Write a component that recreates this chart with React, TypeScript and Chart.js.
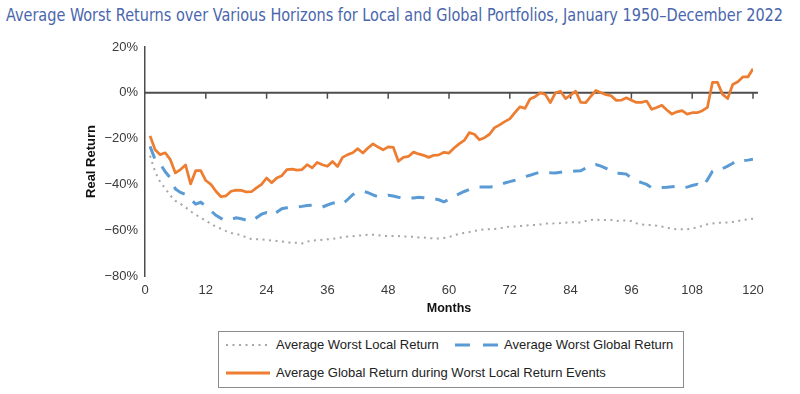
import React, { useEffect, useLayoutEffect, useRef } from 'react';
import { Chart, registerables } from 'chart.js';

Chart.register(...registerables);

// Horizon in months (1..120)
const months: number[] = Array.from({ length: 120 }, (_, i) => i + 1);

// x-axis tick positions (months) and y-axis tick values (%)
const xTicks: number[] = [0, 12, 24, 36, 48, 60, 72, 84, 96, 108, 120];
const yTicks: number[] = [20, 0, -20, -40, -60, -80];

// Average worst local return (%)
const worstLocal: number[] = [
  -27.5, -34.5, -39, -41.8, -44.8, -47.2, -48.5, -50, -51.8, -53.2,
  -54.6, -55.8, -57.2, -58.5, -59.4, -60.4, -61.2, -61.7, -62.1, -63.2,
  -63.8, -63.9, -64, -64.2, -64.5, -64.7, -64.9, -65.3, -65.4, -65.5,
  -65.8, -65, -64.5, -64.4, -64.2, -64, -63.8, -63.5, -63, -62.8,
  -62.6, -62.4, -62.2, -62, -62, -62.2, -62.5, -62.5, -62.5, -62.5,
  -62.8, -62.8, -62.9, -63.2, -63.2, -63.4, -63.6, -63.6, -63.4, -63,
  -62.2, -61.6, -61.2, -60.8, -60.3, -60, -59.6, -59.6, -59.5, -59.2,
  -58.7, -58.4, -58.4, -58.2, -58, -57.8, -57.7, -57.5, -57.1, -57.1,
  -57, -56.9, -56.7, -56.5, -56.5, -56.7, -56, -55.5, -55.3, -55.6,
  -55.6, -55.6, -56, -55.8, -55.8, -56, -57, -57.5, -57.7, -57.7,
  -58, -58.4, -58.9, -59.4, -59.6, -59.6, -59.6, -59.2, -58.8, -58.1,
  -57.4, -57.1, -56.7, -56.8, -56.6, -56.4, -56, -55.6, -55.2, -55,
];

// Average worst global return (%)
const worstGlobal: number[] = [
  -23.4, -29.2, -31, -34.5, -37.2, -42, -43.5, -44.4, -46.5, -48.6,
  -47.8, -49.5, -51.5, -53.5, -54.8, -55.8, -55.2, -54.6, -55, -55.6,
  -56.2, -54.6, -53, -52.3, -53.6, -52.2, -50.6, -50.2, -50, -49.9,
  -49.6, -49.2, -49.1, -49.5, -49.9, -49, -48.2, -47.8, -48.6, -46.6,
  -44.5, -43.2, -43, -43.6, -44.6, -45.4, -45.2, -44.7, -45.1, -45.6,
  -46, -46.1, -45.9, -45.6, -45.8, -46.1, -46.3, -46.7, -47.6, -46.6,
  -45.2, -44.1, -43.1, -42.2, -41.5, -41.1, -41.1, -41.1, -41, -40.2,
  -39.4, -38.8, -38.2, -37.4, -36.6, -36, -35.3, -34.6, -34.7, -34.9,
  -35, -34.7, -34.4, -34.4, -34.2, -34.1, -32.8, -31.4, -31.3, -32,
  -33, -34.3, -35.1, -35.2, -35.5, -37.2, -38.4, -39.2, -40, -41.5,
  -41.5, -41.3, -41.2, -41, -40.8, -41.5, -41.2, -40.5, -40, -41.1,
  -38, -34.3, -32.8, -33.1, -32, -30.8, -29.2, -29.6, -29.4, -29,
];

// Average global return during worst local return events (%)
const globalDuringLocal: number[] = [
  -18.8, -24.9, -27, -26.2, -29.2, -35, -33.5, -31.5, -39.8, -34,
  -34, -38.3, -40, -43, -45.4, -45, -43, -42.5, -42.6, -43.3,
  -43.2, -41.5, -40, -37.2, -39.3, -37.2, -36.2, -33.5, -33.3, -33.8,
  -33.5, -31.4, -32.8, -30.4, -31.4, -32.1, -30, -32.2, -28.2, -27,
  -26.2, -24.4, -26.3, -24.1, -22.3, -23.7, -24.9, -23.6, -23.8, -29.9,
  -28.2, -27.8, -25.9, -26.7, -27.3, -28.2, -27.3, -27.1, -26, -26.3,
  -24.1, -22.3, -20.8, -17.4, -18.1, -20.5, -19.6, -18.1, -15.2, -14,
  -12.6, -11.4, -8.7, -6.1, -6.8, -2.7, -1.7, 0, -0.7, -4.3,
  0, 0.7, -2.5, -1, 0.7, -4.2, -4.3, -1.5, 1, 0,
  -0.8, -1.3, -3.3, -3.2, -2.2, -3.2, -4.2, -4.2, -3.6, -7.2,
  -6.4, -5.4, -7.5, -9.3, -8.3, -7.8, -9.3, -8.7, -8.7, -7.8,
  -6.4, 4.5, 4.5, -0.7, -2.5, 3.6, 4.8, 6.9, 6.9, 10.5,
];

const TITLE = 'Average Worst Returns over Various Horizons for Local and Global Portfolios, January 1950\u2013December 2022';
const TITLE_WIDTH = 777;

const LOCAL_COLOR = '#a6a6a6';
const GLOBAL_COLOR = '#5b9bd5';
const DURING_COLOR = '#ed7d31';
const AXIS_COLOR = '#4d4d4d';
const SANS = '"Liberation Sans", Arial, sans-serif';

const toPoints = (vals: number[]) => vals.map((v, i) => ({ x: months[i], y: v }));

const formatPct = (v: number) => (v < 0 ? '\u2212' + Math.abs(v) + '%' : v + '%');

// Draws the horizontal 0% axis with downward tick marks every 12 months
const zeroAxisPlugin = {
  id: 'zeroAxis',
  beforeDatasetsDraw(chart: any) {
    const { ctx, scales } = chart;
    const x = scales.x;
    const y = scales.y;
    const y0 = y.getPixelForValue(0);
    ctx.save();
    ctx.strokeStyle = AXIS_COLOR;
    ctx.lineWidth = 2;
    ctx.beginPath();
    ctx.moveTo(x.left, y0);
    ctx.lineTo(x.right + 5, y0);
    ctx.stroke();
    ctx.lineWidth = 1.5;
    ctx.beginPath();
    xTicks.forEach((t) => {
      if (t === 0) return;
      const px = x.getPixelForValue(t);
      ctx.moveTo(px, y0);
      ctx.lineTo(px, y0 + 6);
    });
    ctx.stroke();
    ctx.restore();
  },
};

function LegendSample({ kind }: { kind: 'dot' | 'dash' | 'solid' }) {
  const stroke = kind === 'dot' ? LOCAL_COLOR : kind === 'dash' ? GLOBAL_COLOR : DURING_COLOR;
  const dash = kind === 'dot' ? '2 4.5' : kind === 'dash' ? '15 13' : undefined;
  const width = kind === 'dot' ? 2 : 3;
  return (
    <svg width={44} height={8} style={{ display: 'block' }}>
      <line x1={0} y1={4} x2={44} y2={4} stroke={stroke} strokeWidth={width} strokeDasharray={dash} />
    </svg>
  );
}

export default function App() {
  const canvasRef = useRef<HTMLCanvasElement | null>(null);
  const titleRef = useRef<HTMLSpanElement | null>(null);

  // Fit the condensed title to its line width
  useLayoutEffect(() => {
    const el = titleRef.current;
    if (!el) return;
    el.style.transform = 'none';
    const w = el.getBoundingClientRect().width;
    if (w > 0) el.style.transform = `scaleX(${TITLE_WIDTH / w})`;
  }, []);

  useEffect(() => {
    if (!canvasRef.current) return;
    const chart = new Chart(canvasRef.current, {
      type: 'line',
      data: {
        datasets: [
          {
            label: 'Average Worst Local Return',
            data: toPoints(worstLocal),
            borderColor: LOCAL_COLOR,
            borderWidth: 2,
            borderDash: [2, 4.5],
            pointRadius: 0,
            tension: 0,
            order: 3,
          },
          {
            label: 'Average Worst Global Return',
            data: toPoints(worstGlobal),
            borderColor: GLOBAL_COLOR,
            borderWidth: 3,
            borderDash: [13, 11],
            pointRadius: 0,
            tension: 0,
            order: 2,
          },
          {
            label: 'Average Global Return during Worst Local Return Events',
            data: toPoints(globalDuringLocal),
            borderColor: DURING_COLOR,
            borderWidth: 2.75,
            borderJoinStyle: 'round',
            pointRadius: 0,
            tension: 0,
            order: 1,
          },
        ],
      },
      options: {
        animation: false,
        responsive: false,
        devicePixelRatio: 1,
        layout: { padding: { left: 70, right: 47, top: 47, bottom: 9 } },
        plugins: {
          legend: { display: false },
          tooltip: { enabled: false },
        },
        scales: {
          x: {
            type: 'linear',
            min: 0,
            max: 120,
            afterBuildTicks: (scale: any) => {
              scale.ticks = xTicks.map((v) => ({ value: v }));
            },
            afterFit: (scale: any) => {
              scale.height = 45;
            },
            grid: { display: false, drawTicks: false },
            border: { display: false },
            ticks: {
              padding: 7,
              maxRotation: 0,
              autoSkip: false,
              color: '#3a3a3a',
              font: { family: SANS, size: 13 },
            },
            title: {
              display: true,
              text: 'Months',
              color: '#111',
              font: { family: SANS, size: 12.5, weight: 'bold' },
              padding: { top: 0, bottom: 4.5 },
            },
          },
          y: {
            min: -80,
            max: 20,
            afterBuildTicks: (scale: any) => {
              scale.ticks = yTicks.map((v) => ({ value: v }));
            },
            afterFit: (scale: any) => {
              scale.width = 75;
            },
            grid: { display: false, drawTicks: false },
            border: { display: true, color: AXIS_COLOR, width: 1.5 },
            ticks: {
              padding: 7,
              color: '#3a3a3a',
              font: { family: SANS, size: 13 },
              callback: (v: any) => formatPct(Number(v)),
            },
            title: {
              display: true,
              text: 'Real Return',
              color: '#111',
              font: { family: SANS, size: 13, weight: 'bold' },
              padding: { top: 13.5, bottom: 0 },
            },
          },
        },
      },
      plugins: [zeroAxisPlugin],
    } as any);
    return () => chart.destroy();
  }, []);

  const legendText: React.CSSProperties = {
    position: 'absolute',
    fontFamily: SANS,
    fontSize: 13,
    color: '#222',
    whiteSpace: 'nowrap',
    lineHeight: '16px',
  };

  return (
    <div
      style={{
        position: 'fixed',
        left: 0,
        top: 0,
        width: 800,
        height: 394,
        background: '#fff',
        overflow: 'hidden',
      }}
    >
      <div
        style={{
          position: 'absolute',
          left: 6,
          top: 5,
          width: 790,
          fontFamily: '"Liberation Sans Narrow", "DejaVu Sans Condensed", sans-serif',
          fontSize: 17,
          color: '#4a66ac',
          whiteSpace: 'nowrap',
          lineHeight: '20px',
        }}
      >
        <span ref={titleRef} style={{ display: 'inline-block', transformOrigin: '0 50%' }}>
          {TITLE}
        </span>
      </div>
      <canvas
        ref={canvasRef}
        width={800}
        height={330}
        style={{ position: 'absolute', left: 0, top: 0, width: 800, height: 330 }}
      />
      <div
        style={{
          position: 'absolute',
          left: 218,
          top: 331,
          width: 466,
          height: 57,
          border: '1px solid #8c8c8c',
          boxSizing: 'border-box',
        }}
      />
      <div style={{ position: 'absolute', left: 226, top: 341 }}>
        <LegendSample kind="dot" />
      </div>
      <div style={{ ...legendText, left: 276, top: 337 }}>Average Worst Local Return</div>
      <div style={{ position: 'absolute', left: 455, top: 341 }}>
        <LegendSample kind="dash" />
      </div>
      <div style={{ ...legendText, left: 504, top: 337 }}>Average Worst Global Return</div>
      <div style={{ position: 'absolute', left: 226, top: 369 }}>
        <LegendSample kind="solid" />
      </div>
      <div style={{ ...legendText, left: 276, top: 365 }}>
        Average Global Return during Worst Local Return Events
      </div>
    </div>
  );
}
